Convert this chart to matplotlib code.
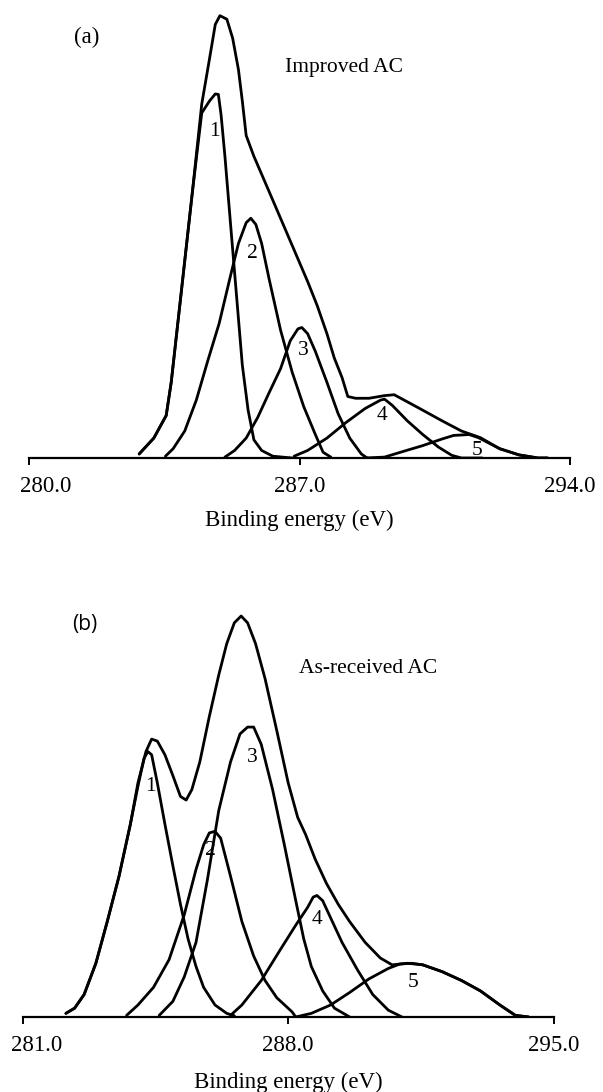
import matplotlib.pyplot as plt
from matplotlib.transforms import ScaledTranslation

plt.rcParams['font.family'] = ['Liberation Serif', 'DejaVu Serif']

# ---- panel (a): Improved AC ----
a_env_ev = [282.85, 283.23, 283.55, 283.68, 283.93, 284.23, 284.47, 284.67, 284.82, 284.94,
            285.12, 285.27, 285.42, 285.52, 285.62, 285.82, 286.21, 286.71, 287.21, 287.46,
            287.71, 287.90, 288.10, 288.25, 288.45, 288.80, 289.20, 289.45, 289.79, 290.19,
            290.69, 291.19, 291.68, 292.18, 292.68, 293.17, 293.42]
a_env_int = [0.9, 4.5, 9.6, 17.1, 36.7, 60.3, 80.0, 90.2, 98.0, 100.0,
             99.2, 94.9, 87.8, 80.7, 72.9, 68.2, 60.3, 50.1, 39.9, 34.4,
             28.1, 22.6, 18.2, 13.9, 13.5, 13.5, 14.1, 14.3, 12.7, 10.8,
             8.4, 6.1, 4.6, 2.1, 0.7, 0.0, 0.0]

a_peak_ev = [
    [282.85, 283.23, 283.55, 283.68, 283.93, 284.23, 284.47, 284.67, 284.82, 284.90,
     284.97, 285.07, 285.22, 285.37, 285.52, 285.67, 285.82, 286.02, 286.31, 286.81],
    [283.53, 283.73, 284.03, 284.33, 284.62, 284.92, 285.22, 285.42, 285.62, 285.74,
     285.87, 286.02, 286.21, 286.51, 286.81, 287.11, 287.41, 287.61, 287.81],
    [285.07, 285.32, 285.62, 285.92, 286.21, 286.51, 286.76, 286.96, 287.06, 287.21,
     287.41, 287.71, 288.00, 288.30, 288.60, 288.75],
    [286.86, 287.21, 287.71, 288.20, 288.70, 289.10, 289.20, 289.40, 289.79, 290.19,
     290.59, 290.94, 291.19, 291.73],
    [288.70, 289.20, 289.69, 290.19, 290.69, 290.99, 291.39, 291.63, 292.18, 292.68,
     293.17, 293.42],
]
a_peak_int = [
    [0.9, 4.5, 9.6, 17.1, 36.7, 60.3, 78.0, 80.7, 82.3, 82.2,
     77.6, 68.2, 52.4, 36.7, 21.0, 10.8, 4.1, 1.7, 0.4, 0.0],
    [0.4, 2.1, 6.1, 13.1, 21.8, 30.4, 41.4, 48.5, 53.2, 54.2,
     52.8, 48.5, 40.6, 28.9, 19.4, 11.6, 5.3, 1.3, 0.2],
    [0.2, 1.7, 4.5, 9.2, 14.7, 20.2, 26.5, 29.2, 29.5, 28.1,
     24.1, 17.1, 10.0, 4.5, 0.9, 0.0],
    [0.4, 1.7, 4.5, 8.0, 11.2, 13.1, 13.3, 11.9, 8.4, 5.3,
     2.5, 0.6, 0.0, 0.0],
    [0.0, 0.2, 1.5, 2.8, 4.3, 5.1, 5.3, 4.6, 2.1, 0.7,
     0.0, 0.0],
]
a_label_ev = [284.79, 285.77, 287.09, 289.14, 291.59]
a_label_int = [73.9, 46.3, 24.4, 9.7, 1.6]
a_ticks = [280.0, 287.0, 294.0]

# ---- panel (b): As-received AC ----
b_env_ev = [282.14, 282.37, 282.62, 282.93, 283.23, 283.54, 283.84, 284.04, 284.25, 284.40,
            284.55, 284.75, 284.96, 285.16, 285.31, 285.46, 285.67, 285.92, 286.17, 286.38,
            286.58, 286.76, 286.93, 287.14, 287.39, 287.70, 288.00, 288.25, 288.46, 288.71,
            289.01, 289.32, 289.62, 290.03, 290.43, 290.74, 291.15, 291.55, 292.06, 292.57,
            293.07, 293.58, 293.99, 294.34]
b_env_int = [0.9, 2.2, 5.6, 13.4, 23.8, 35.1, 48.1, 58.4, 66.2, 69.3,
             68.8, 65.4, 60.2, 55.0, 54.1, 56.7, 63.6, 74.9, 85.3, 93.1,
             98.3, 100.0, 98.3, 93.1, 84.4, 71.4, 58.4, 49.8, 45.5, 39.4,
             33.3, 28.1, 23.8, 18.6, 14.7, 13.0, 13.4, 13.0, 11.3, 9.1,
             6.5, 3.0, 0.4, 0.0]

b_peak_ev = [
    [282.14, 282.37, 282.62, 282.93, 283.23, 283.54, 283.84, 284.04, 284.20, 284.30,
     284.40, 284.55, 284.75, 284.96, 285.16, 285.36, 285.57, 285.77, 286.07, 286.38, 286.58],
    [283.74, 284.04, 284.45, 284.86, 285.26, 285.57, 285.77, 285.92, 286.07, 286.22,
     286.48, 286.78, 287.09, 287.39, 287.70, 288.10, 288.20],
    [284.60, 284.96, 285.26, 285.57, 285.87, 286.17, 286.48, 286.73, 286.93, 287.09,
     287.29, 287.59, 287.90, 288.20, 288.41, 288.61, 288.91, 289.22, 289.62],
    [286.48, 286.78, 287.29, 287.80, 288.20, 288.51, 288.66, 288.76, 288.91, 289.12,
     289.42, 289.83, 290.23, 290.64, 291.00],
    [288.20, 288.61, 289.12, 289.62, 290.13, 290.64, 290.94, 291.25, 291.55, 292.06,
     292.57, 293.07, 293.58, 293.99, 294.34],
]
b_peak_int = [
    [0.9, 2.2, 5.6, 13.4, 23.8, 35.1, 48.1, 57.6, 64.5, 66.2,
     65.4, 58.4, 48.1, 37.7, 28.1, 19.5, 12.6, 7.4, 3.0, 0.9, 0.3],
    [0.4, 3.0, 7.4, 14.3, 25.5, 36.8, 42.9, 45.9, 46.3, 44.6,
     35.1, 23.8, 15.2, 9.1, 4.8, 1.3, 0.0],
    [0.4, 3.9, 10.0, 18.6, 34.2, 51.5, 63.6, 70.6, 72.3, 72.3,
     68.0, 56.7, 42.9, 29.0, 19.5, 12.6, 6.5, 2.2, 0.0],
    [0.4, 3.0, 9.1, 16.9, 22.9, 27.3, 29.9, 30.3, 29.0, 24.7,
     18.6, 11.7, 5.6, 1.7, 0.0],
    [0.0, 0.9, 3.0, 6.1, 9.5, 12.1, 13.2, 13.4, 13.0, 11.3,
     9.1, 6.5, 3.0, 0.4, 0.0],
]
b_label_ev = [284.36, 285.96, 287.04, 288.76, 291.29]
b_label_int = [57.6, 41.4, 64.8, 24.2, 8.7]
b_ticks = [281.0, 288.0, 295.0]

peak_names = ['1', '2', '3', '4', '5']

fig = plt.figure(figsize=(6.03, 10.92), dpi=100)
ax_a = fig.add_axes([0.0481, 0.5806, 0.8972, 0.4172])
ax_b = fig.add_axes([0.0376, 0.0687, 0.8806, 0.3782])

panels = [
    (ax_a, a_env_ev, a_env_int, a_peak_ev, a_peak_int, a_label_ev, a_label_int, a_ticks, 0.17, 9),
    (ax_b, b_env_ev, b_env_int, b_peak_ev, b_peak_int, b_label_ev, b_label_int, b_ticks, 0.14, 11),
]

for ax, env_ev, env_int, pk_ev, pk_int, lab_ev, lab_int, ticks, shift, lpad in panels:
    ax.plot(env_ev, env_int, color='black', lw=2.0, solid_joinstyle='round', solid_capstyle='round')
    for ev, inten in zip(pk_ev, pk_int):
        ax.plot(ev, inten, color='black', lw=2.0, solid_joinstyle='round', solid_capstyle='round')
    for name, x, y in zip(peak_names, lab_ev, lab_int):
        ax.text(x, y, name, fontsize=15.5, ha='center', va='center')
    ax.set_xlim(ticks[0], ticks[-1])
    ax.set_ylim(0, 103)
    for side in ['left', 'top', 'right']:
        ax.spines[side].set_visible(False)
    ax.spines['bottom'].set_linewidth(1.6)
    ax.set_yticks([])
    ax.set_xticks(ticks)
    ax.set_xticklabels(['%.1f' % t for t in ticks])
    ax.tick_params(axis='x', direction='out', length=5, width=1.4, pad=8, labelsize=16.5)
    ax.set_xlabel('Binding energy (eV)', fontsize=16.5, labelpad=lpad)
    ax.patch.set_visible(False)
    # first label sits a little to the right of its tick, as in the print
    first = ax.get_xticklabels()[0]
    first.set_transform(first.get_transform() + ScaledTranslation(shift, 0, fig.dpi_scale_trans))

ax_a.text(281.50, 95.0, '(a)', fontsize=16.5, ha='center', va='center')
ax_a.text(288.15, 88.2, 'Improved AC', fontsize=15.5, ha='center', va='center')
ax_b.text(282.64, 97.8, '(b)', fontsize=15, ha='center', va='center',
          family=['Open Sans', 'DejaVu Sans'])
ax_b.text(290.10, 87.0, 'As-received AC', fontsize=15.5, ha='center', va='center')

fig.savefig('out.png', dpi=100)
